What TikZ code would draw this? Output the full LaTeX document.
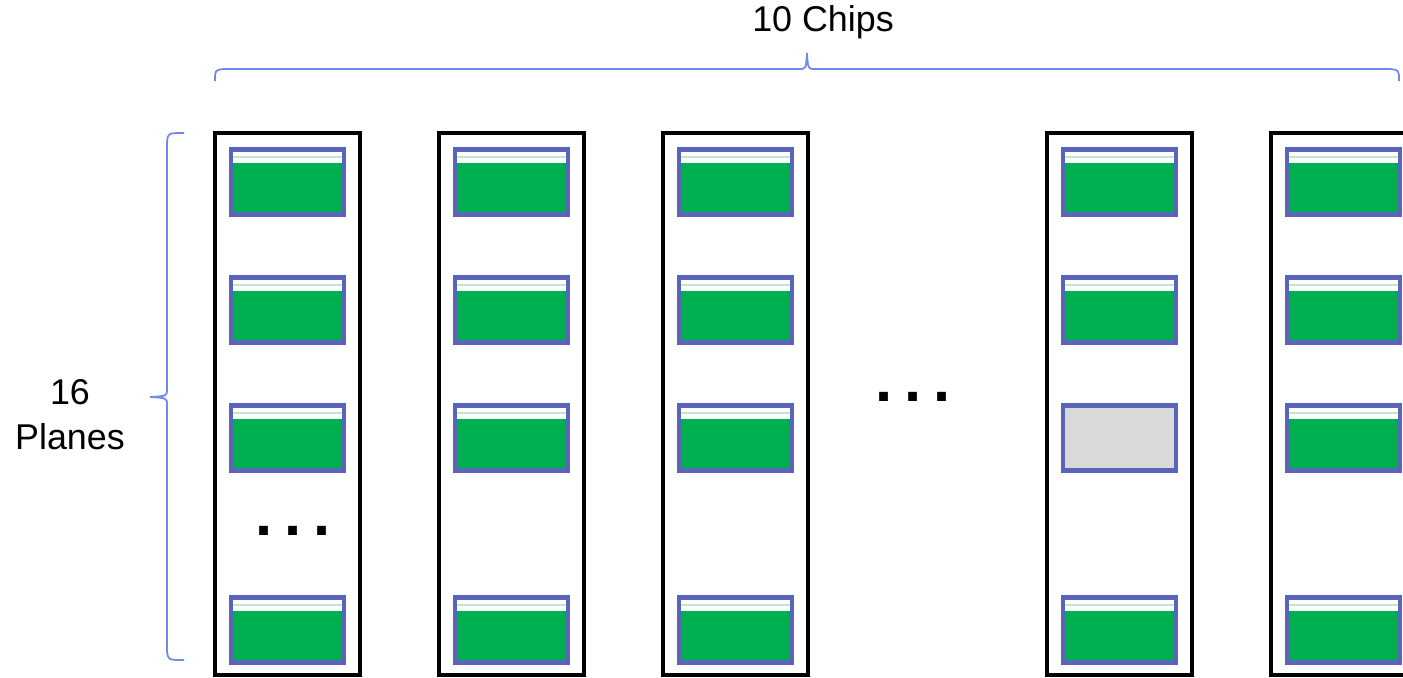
\documentclass[tikz,border=0pt]{standalone}
\usepackage{fontspec}
\setmainfont{Liberation Sans}

\definecolor{planeblue}{HTML}{5A64B9}
\definecolor{planegreen}{HTML}{00B050}
\definecolor{planegray}{HTML}{D9D9D9}
\definecolor{bracecol}{HTML}{7088F0}
\definecolor{stripline}{HTML}{BFE3D6}

\begin{document}
\begin{tikzpicture}[x=0.02cm,y=-0.02cm,
  chip/.style={draw=black,line width=2.6pt,minimum width=2.9cm,minimum height=10.84cm,inner sep=0pt},
  plane/.style={draw=planeblue,line width=2.8pt,fill=planegreen,minimum width=2.26cm,minimum height=1.3cm,inner sep=0pt,
    path picture={
      \fill[white] (path picture bounding box.north west) rectangle ([yshift=-0.27cm]path picture bounding box.north east);
      \draw[stripline,line width=0.7pt] ([yshift=-0.15cm]path picture bounding box.north west) -- ([yshift=-0.15cm]path picture bounding box.north east);}},
  badplane/.style={draw=planeblue,line width=2.8pt,fill=planegray,minimum width=2.26cm,minimum height=1.3cm,inner sep=0pt},
  chipbrace/.style={draw=bracecol,line width=1pt},
  lbl/.style={font=\fontsize{20.4}{25.5}\selectfont,align=center,inner sep=0pt},
  dots/.style={font=\fontsize{35}{35}\bfseries\selectfont,inner sep=0pt,anchor=base}]
  \path[use as bounding box,clip] (0,0) rectangle (1403,677);

  % chips and their planes
  \foreach \c/\x in {1/287.5,2/511.5,3/735.5,4/1119.5,5/1343.5}{
    \node[chip] (chip\c) at (\x,404) {};
    \foreach \r/\y in {1/182,2/310,3/438,4/630}{
      \ifnum\c\r=43
        \node[badplane] (p\c-\r) at (\x,\y) {};
      \else
        \node[plane] (p\c-\r) at (\x,\y) {};
      \fi
    }
  }
  \node[dots] (vdots) at (293,535) {.\hspace{0.23cm}.\hspace{0.23cm}.};
  \node[dots] (hdots) at (913,401) {.\hspace{0.23cm}.\hspace{0.23cm}.};

  % braces
  \coordinate (bl) at (215,81);
  \coordinate (btip) at (807,53);
  \coordinate (br) at (1399,81);
  \draw[chipbrace] (bl) .. controls (215,70) .. (224,69) -- (799,69)
    .. controls (806,69) .. (btip) .. controls (808,69) .. (815,69)
    -- (1390,69) .. controls (1399,70) .. (br);
  \node[lbl] (nchips) at (823,22) {10 Chips};
  \coordinate (lt) at (184,133);
  \coordinate (ltip) at (150,397);
  \coordinate (lb) at (184,660);
  \draw[chipbrace] (lt) .. controls (168,133) .. (167,142) -- (167,389)
    .. controls (167,396) .. (ltip) .. controls (167,398) .. (167,405)
    -- (167,651) .. controls (168,660) .. (lb);
  \node[lbl] (nplanes) at (70,415) {16\\Planes};
\end{tikzpicture}
\end{document}
